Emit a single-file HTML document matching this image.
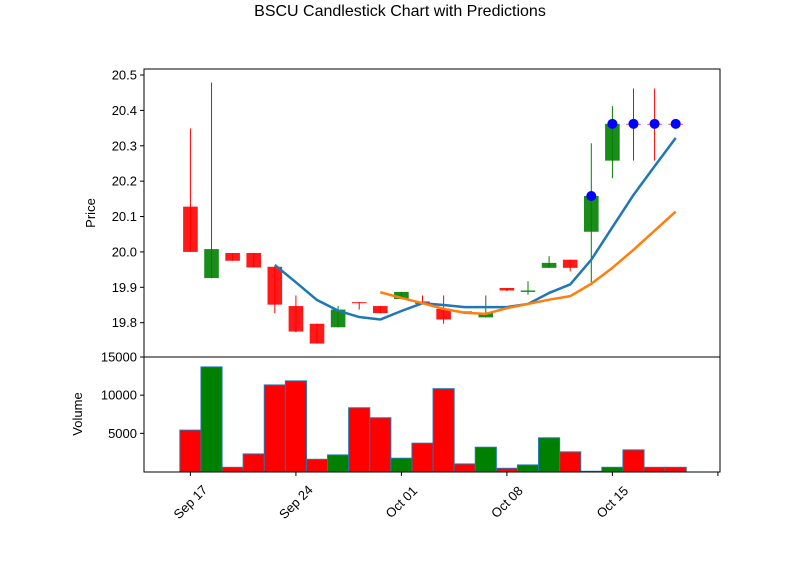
<!DOCTYPE html>
<html><head><meta charset="utf-8"><style>
body{margin:0;background:#fff;}
svg text{font-family:"Liberation Sans","DejaVu Sans",sans-serif;}
</style></head><body>
<svg id="chart" width="800" height="575" xmlns="http://www.w3.org/2000/svg">
<rect width="800" height="575" fill="#fff"/>
<text x="400" y="16" text-anchor="middle" font-size="16">BSCU Candlestick Chart with Predictions</text>
<g id="price"></g><g id="vol"></g><g id="axes"></g>
</svg>
<script>
const dateLabels=["Sep 17","Sep 24","Oct 01","Oct 08","Oct 15",""];
const opens=[20.128,19.926,19.997,19.997,19.958,19.847,19.797,19.787,19.858,19.847,19.867,19.860,19.839,19.832,19.815,19.898,19.887,19.955,19.978,20.057,20.258,20.362,20.362,20.362];
const closes=[20.0,20.008,19.975,19.956,19.851,19.775,19.741,19.837,19.855,19.827,19.887,19.853,19.809,19.830,19.827,19.891,19.891,19.969,19.955,20.158,20.362,20.362,20.362,20.362];
const highs=[20.349,20.479,19.997,19.997,19.958,19.877,19.797,19.847,19.858,19.847,19.887,19.877,19.877,19.832,19.877,19.898,19.917,19.988,19.978,20.307,20.412,20.462,20.462,20.362];
const lows=[20.0,19.926,19.975,19.956,19.827,19.773,19.741,19.787,19.837,19.827,19.867,19.853,19.797,19.830,19.815,19.889,19.879,19.955,19.945,19.914,20.208,20.258,20.258,20.362];
const volumes=[5420,13700,550,2300,11340,11870,1600,2170,8350,7040,1740,3710,10850,990,3180,420,860,4410,2570,30,550,2830,550,550];
const volColors=["r","g","r","r","r","r","r","g","r","r","g","r","r","r","g","r","g","g","r","r","g","r","r","r"];
const maShort=[null,null,null,null,19.963,19.914,19.864,19.834,19.816,19.809,19.833,19.855,19.850,19.844,19.844,19.844,19.853,19.884,19.908,19.978,20.070,20.161,20.242,20.322];
const maLong=[null,null,null,null,null,null,null,null,null,19.886,19.870,19.855,19.839,19.828,19.825,19.841,19.853,19.865,19.875,19.910,19.955,20.006,20.060,20.114];
const predIdx=[19,20,21,22,23];
const predVals=[20.158,20.362,20.362,20.362,20.362];
const priceTicks=[19.8,19.9,20.0,20.1,20.2,20.3,20.4,20.5];
const volTicks=[5000,10000,15000];

const NS="http://www.w3.org/2000/svg";
const L=144,R=720,PT=69,PB=357,VB=472;
const X=i=>L+(i+2.2)/27.3*(R-L);
const YP=p=>PT+(20.517-p)/(20.517-19.703)*(PB-PT);
const YV=v=>471.5-v/15000*(471.5-357);
function mk(parent,tag,attrs){const e=document.createElementNS(NS,tag);for(const k in attrs)e.setAttribute(k,attrs[k]);document.getElementById(parent).appendChild(e);return e;}
const RED="#ff0000",GRN="#008000";
for(let i=0;i<opens.length;i++){
  const up=closes[i]>=opens[i]&&closes[i]!==opens[i];
  const c=up?GRN:RED;
  const w=mk("price","line",{x1:X(i),x2:X(i),y1:YP(highs[i]),y2:YP(lows[i]),stroke:c,"stroke-width":1});
  
  
  const top=Math.min(YP(opens[i]),YP(closes[i])),h=Math.max(0.8,Math.abs(YP(opens[i])-YP(closes[i])));
  const b=mk("price","rect",{x:X(i)-7.3,y:top,width:14.6,height:h,fill:c,"fill-opacity":0.9});
  
  
}
function line(arr,color,name){
  let d="";arr.forEach((v,i)=>{if(v!==null)d+=(d?"L":"M")+X(i)+","+YP(v);});
  const p=mk("price","path",{d:d,fill:"none",stroke:color,"stroke-width":2.5,"stroke-linejoin":"round"});
  
  
}
line(maShort,"#1f77b4","ma-short-line");
line(maLong,"#ff7f0e","ma-long-line");
predIdx.forEach((ix,k)=>{
  const c=mk("price","circle",{cx:X(ix),cy:YP(predVals[k]),r:5,fill:"#0000ff"});
  
  
});
volumes.forEach((v,i)=>{
  const w=21.1;
  const r=mk("vol","rect",{x:X(i)-w/2,y:YV(v),width:w,height:471.5-YV(v),fill:volColors[i]==="g"?GRN:RED,stroke:"#1f77b4","stroke-width":1});
  
  
});
const f1=mk("axes","rect",{x:L,y:PT,width:R-L,height:PB-PT,fill:"none",stroke:"#000","stroke-width":1});


const f2=mk("axes","rect",{x:L,y:PB,width:R-L,height:VB-PB,fill:"none",stroke:"#000","stroke-width":1});


priceTicks.forEach(t=>{
  const y=YP(t);
  mk("axes","line",{x1:L-4,x2:L,y1:y,y2:y,stroke:"#000"});
  const tx=mk("axes","text",{x:L-7,y:y+4.5,"text-anchor":"end","font-size":13});
  tx.textContent=t.toFixed(1);
  
  
});
volTicks.forEach(t=>{
  const y=YV(t);
  mk("axes","line",{x1:L-4,x2:L,y1:y,y2:y,stroke:"#000"});
  const tx=mk("axes","text",{x:L-7,y:y+4.5,"text-anchor":"end","font-size":13});
  tx.textContent=String(t);
  
  
});
dateLabels.forEach((lab,k)=>{
  const x=X(k*5);
  mk("axes","line",{x1:x,x2:x,y1:VB,y2:VB+4,stroke:"#000"});
  if(lab){
    const cy=VB+30;
    const tx=mk("axes","text",{x:x,y:cy+4.5,"text-anchor":"middle","font-size":13,transform:`rotate(-45 ${x} ${cy})`});
    tx.textContent=lab;
    
    
  }
});
const yl=mk("axes","text",{x:95,y:213,"text-anchor":"middle","font-size":13,transform:"rotate(-90 95 213)"});
yl.textContent="Price";


const vl=mk("axes","text",{x:82,y:414,"text-anchor":"middle","font-size":13,transform:"rotate(-90 82 414)"});
vl.textContent="Volume";


</script>
</body></html>
